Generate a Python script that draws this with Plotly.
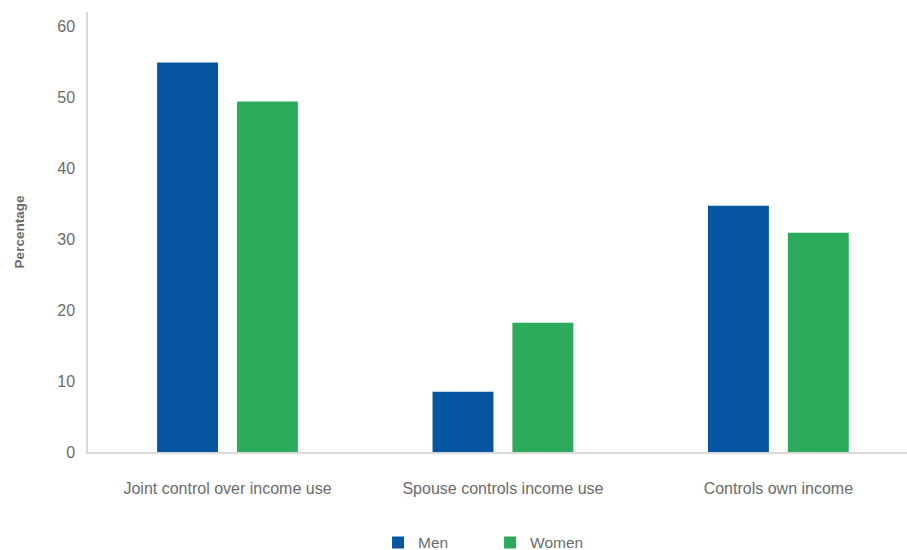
import plotly.graph_objects as go

# Who controls the use of cash income, by sex (%)
categories = ["Joint control over income use", "Spouse controls income use", "Controls own income"]
men = [54.9, 8.5, 34.7]
women = [49.4, 18.2, 30.9]
y_ticks = [0, 10, 20, 30, 40, 50, 60]

BLUE = "#0555A1"
GREEN = "#2BAA5C"
GREY_TEXT = "#6b6b6b"
FONT = "Liberation Sans, Arial, sans-serif"

fig = go.Figure()
fig.add_trace(go.Bar(name="Men", x=categories, y=men, marker=dict(color=BLUE, line=dict(width=0))))
fig.add_trace(go.Bar(name="Women", x=categories, y=women, marker=dict(color=GREEN, line=dict(width=0))))

fig.update_layout(
    width=907,
    height=550,
    margin=dict(l=88, r=0, t=12, b=98),
    paper_bgcolor="white",
    plot_bgcolor="white",
    barmode="group",
    bargap=0.42,
    bargroupgap=0.2375,
    font=dict(family=FONT, size=16, color=GREY_TEXT),
    showlegend=True,
    legend=dict(
        orientation="h",
        xref="container",
        yref="container",
        x=0.4168,
        xanchor="left",
        y=0.013,
        yanchor="middle",
        font=dict(size=15.5, color=GREY_TEXT),
        entrywidth=67,
        itemclick=False,
    ),
)

fig.update_xaxes(
    type="category",
    range=[-0.5064, 2.467],
    showline=True,
    linecolor="#d9d9d9",
    linewidth=1.5,
    showgrid=False,
    zeroline=False,
    ticks="outside",
    ticklen=21,
    tickcolor="rgba(0,0,0,0)",
    tickfont=dict(size=16, color=GREY_TEXT),
)

fig.update_yaxes(
    range=[0, 62],
    tickvals=y_ticks,
    showline=True,
    linecolor="#d9d9d9",
    linewidth=1.5,
    showgrid=False,
    zeroline=False,
    ticks="outside",
    ticklen=8,
    tickcolor="rgba(0,0,0,0)",
    tickfont=dict(size=16, color=GREY_TEXT),
    title=dict(text="<b>Percentage</b>", font=dict(size=13.5, color=GREY_TEXT), standoff=30),
)

fig.write_html("out.html")
